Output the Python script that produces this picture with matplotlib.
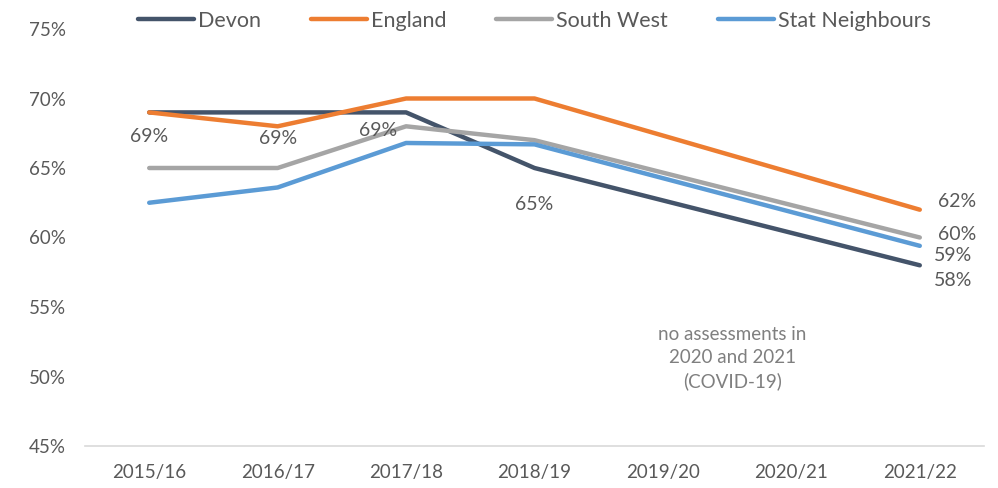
import matplotlib
matplotlib.use("Agg")
import matplotlib.pyplot as plt
import numpy as np

categories = ["2015/16", "2016/17", "2017/18", "2018/19", "2019/20", "2020/21", "2021/22"]
series_names = ["Devon", "England", "South West", "Stat Neighbours"]
devon = [69, 69, 69, 65, np.nan, np.nan, 58]
england = [69, 68, 70, 70, np.nan, np.nan, 62]
south_west = [65, 65, 68, 67, np.nan, np.nan, 60]
stat_neigh = [62.5, 63.6, 66.8, 66.7, np.nan, np.nan, 59.4]
colors = ["#44546A", "#ED7D31", "#A5A5A5", "#5B9BD5"]
yticks = [45, 50, 55, 60, 65, 70, 75]
note = "no assessments in\n2020 and 2021\n(COVID-19)"

plt.rcParams['font.family'] = ['Lato', 'DejaVu Sans']

fig = plt.figure(figsize=(9.98, 4.88), dpi=100)
ax = fig.add_axes([85/998, 42/488, (984-85)/998, (446-29)/488])

x = np.arange(len(categories))
all_series = [devon, england, south_west, stat_neigh]
for name, vals, c in zip(series_names, all_series, colors):
    v = np.array(vals, dtype=float)
    m = ~np.isnan(v)
    ax.plot(x[m], v[m], color=c, lw=3.2, label=name, solid_capstyle='round', solid_joinstyle='round')

lab_col = "#595959"
fs = 14
# Devon labels
ax.annotate(f"{devon[0]:.0f}%", (0, devon[0]), xytext=(0, -17), textcoords='offset points', ha='center', va='center', color=lab_col, fontsize=fs)
ax.annotate(f"{devon[1]:.0f}%", (1, devon[1]), xytext=(0, -19), textcoords='offset points', ha='center', va='center', color=lab_col, fontsize=fs)
ax.annotate(f"{devon[2]:.0f}%", (2, devon[2]), xytext=(-20, -13), textcoords='offset points', ha='center', va='center', color=lab_col, fontsize=fs)
ax.annotate(f"{devon[3]:.0f}%", (3, devon[3]), xytext=(0, -26), textcoords='offset points', ha='center', va='center', color=lab_col, fontsize=fs)
# End labels
ax.annotate(f"{england[6]:.0f}%", (6, england[6]), xytext=(27, 6), textcoords='offset points', ha='center', va='center', color=lab_col, fontsize=fs)
ax.annotate(f"{south_west[6]:.0f}%", (6, south_west[6]), xytext=(27, 2), textcoords='offset points', ha='center', va='center', color=lab_col, fontsize=fs)
ax.annotate(f"{stat_neigh[6]:.0f}%", (6, stat_neigh[6]), xytext=(24, -7), textcoords='offset points', ha='center', va='center', color=lab_col, fontsize=fs)
ax.annotate(f"{devon[6]:.0f}%", (6, devon[6]), xytext=(24, -11), textcoords='offset points', ha='center', va='center', color=lab_col, fontsize=fs)

ax.text(4.54, 51.33, note, ha='center', va='center', color="#7F7F7F", fontsize=13.5, linespacing=1.45)

ax.set_xlim(-0.5, 6.5)
ax.set_ylim(45, 75)
ax.set_xticks(x)
ax.set_xticklabels(categories)
ax.set_yticks(yticks)
ax.set_yticklabels([f"{t}%" for t in yticks])
ax.tick_params(axis='both', length=0, labelsize=13.5, colors=lab_col)
ax.tick_params(axis='x', pad=13)
ax.tick_params(axis='y', pad=14)
for s in ['top', 'right', 'left']:
    ax.spines[s].set_visible(False)
ax.spines['bottom'].set_color("#D9D9D9")
ax.spines['bottom'].set_linewidth(1.2)

leg = ax.legend(loc='center', bbox_to_anchor=(0.5, 1.02), ncol=4, frameon=False,
                fontsize=15.5, handlelength=2.6, handletextpad=0.2, columnspacing=2.3)
for t in leg.get_texts():
    t.set_color(lab_col)

fig.savefig("out.png", dpi=100)
